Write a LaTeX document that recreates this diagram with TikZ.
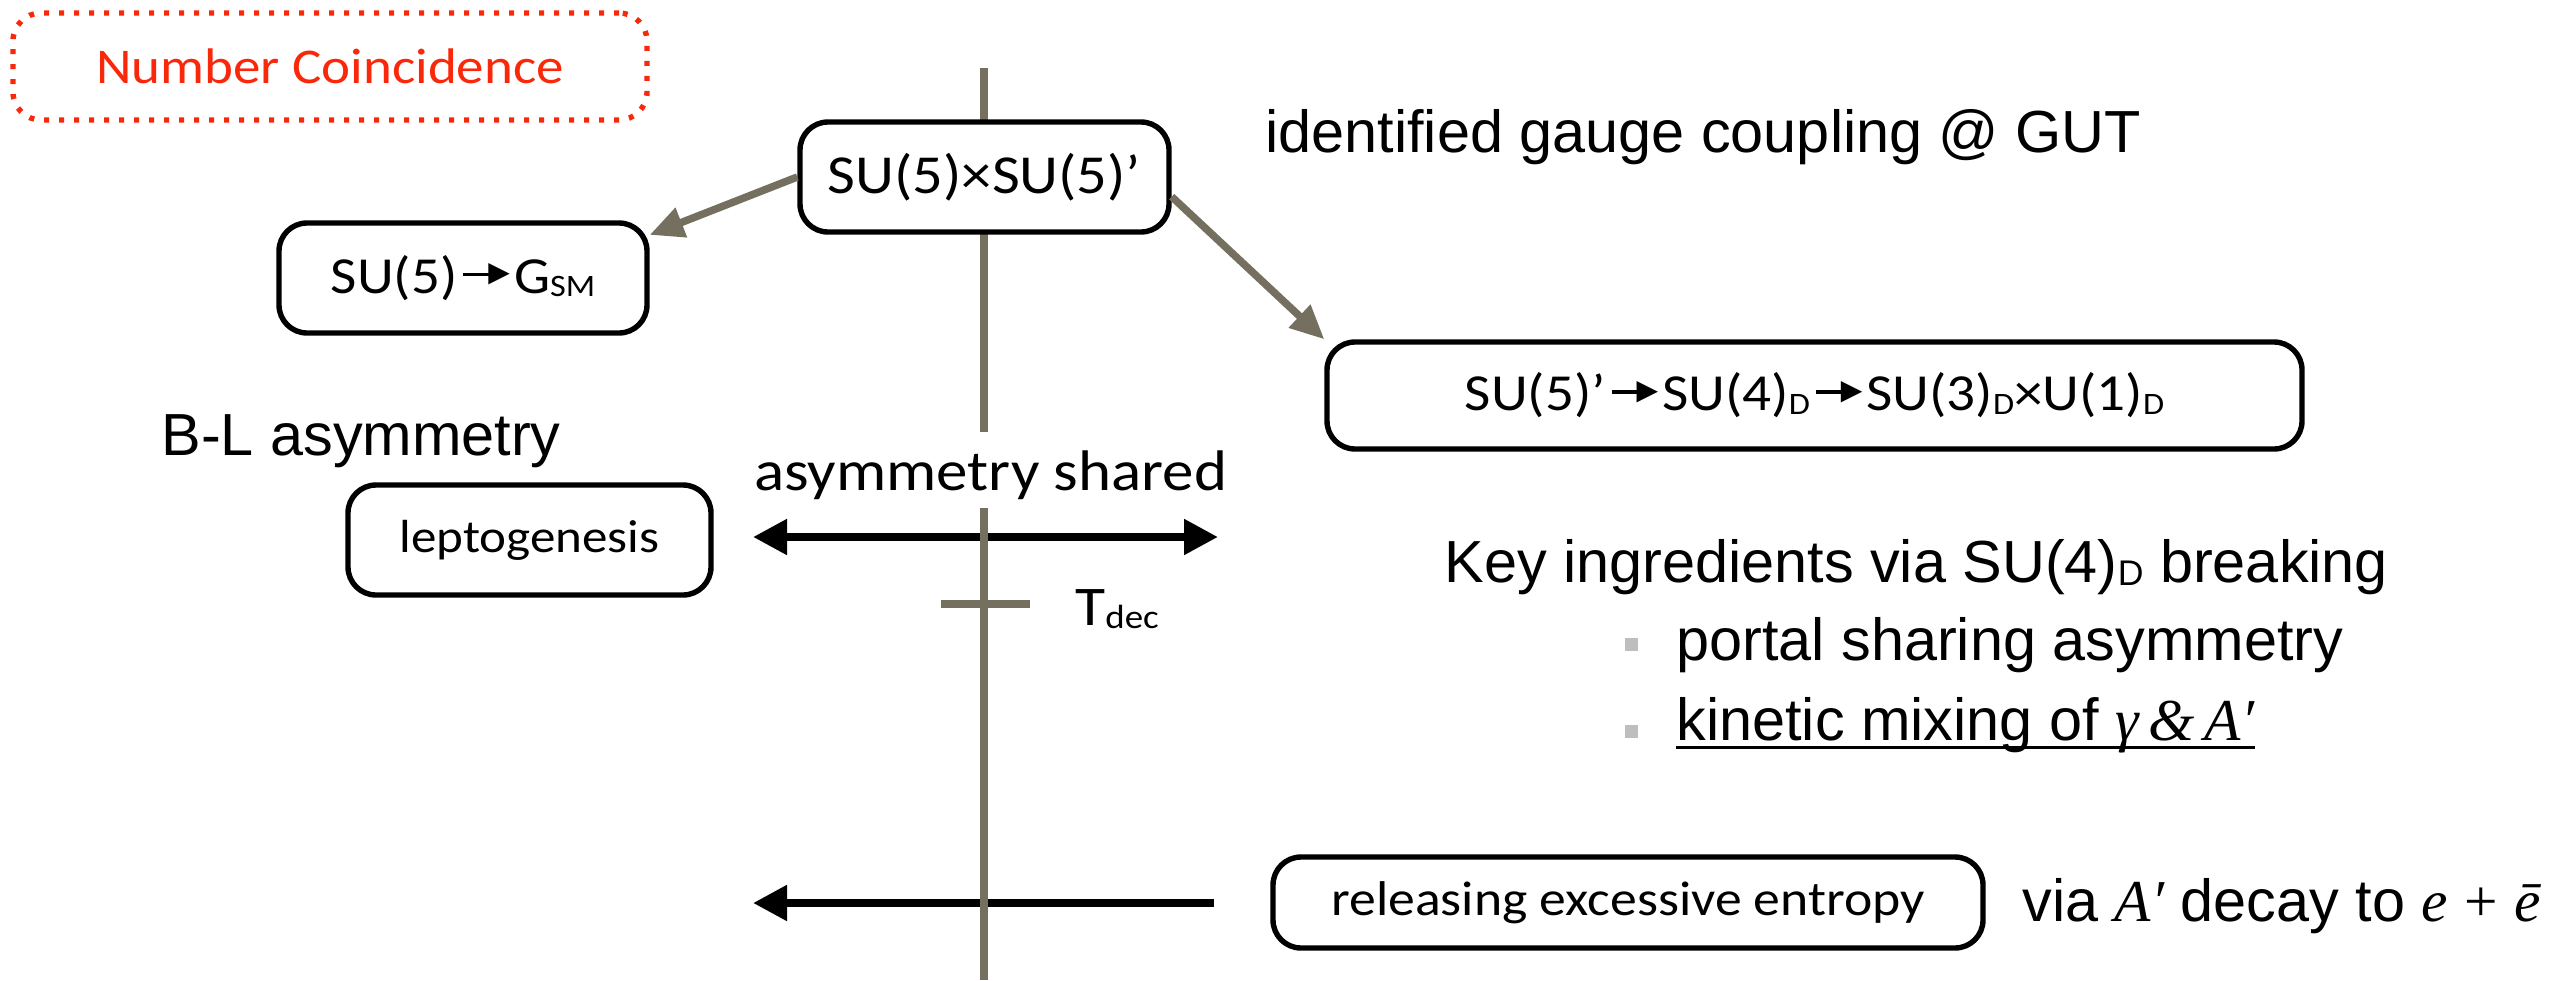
\documentclass[tikz,border=0pt]{standalone}
\usepackage{fontspec}
\usepackage{graphicx}
\setmainfont{Liberation Sans}
\newfontfamily\gill[FakeStretch=1.1]{Carlito}
\newfontfamily\tms{Liberation Serif}
\newfontfamily\djv{DejaVu Sans}
\usetikzlibrary{arrows.meta,backgrounds,calc}
\definecolor{brn}{RGB}{117,111,96}
\definecolor{ncred}{RGB}{250,40,10}
\definecolor{bul}{RGB}{190,190,190}
% lowered small subscript, as in SU(4)_D
\newcommand\lsub[1]{\raisebox{-0.06em}{\scalebox{0.6}{#1}}}
% small solid-headed arrow used inside the group names
\newcommand\garr{\kern3pt\rule[8.6pt]{15pt}{1.8pt}\kern-2.5pt%
  \raisebox{\dimexpr 9.5pt-0.5\height+0.5\depth\relax}{\djv\fontsize{14pt}{14pt}\selectfont ▶}\kern2pt}
\begin{document}
\begin{tikzpicture}[x=0.5pt,y=-0.5pt,
  box/.style={draw, line width=2.7pt, rounded corners=14pt, fill=white, inner sep=0pt,
    align=center, font=\gill\fontsize{26pt}{31pt}\selectfont},
  note/.style={inner sep=0pt, anchor=base west, font=\fontsize{29.7pt}{34pt}\selectfont},
  gnote/.style={inner sep=0pt, font=\gill\fontsize{28pt}{32pt}\selectfont},
  grarrow/.style={draw=brn, line width=3.75pt, -{Triangle[length=17pt,width=15pt]}},
  bkarrow/.style={draw=black, line width=4pt},
  bullet/.style={fill=bul, inner sep=0pt, minimum size=6.5pt},
]
\useasboundingbox (0,0) rectangle (2553,980);

% group nodes
\node[box, minimum width=184.5pt, minimum height=55pt, font=\gill\fontsize{27.5pt}{32pt}\selectfont]
  (top) at (984.5,177) {SU(5)×SU(5)’};
\node[box, minimum width=184pt, minimum height=55pt] (gsm) at (463,278) {SU(5)\garr G\lsub{SM}};
\node[box, minimum width=487.5pt, minimum height=53.5pt] (long) at (1814.5,395.5)
  {SU(5)’\garr SU(4)\lsub{D}\garr SU(3)\lsub{D}×U(1)\lsub{D}};
\node[box, minimum width=181.5pt, minimum height=55pt, font=\gill\fontsize{23.2pt}{28pt}\selectfont]
  (lepto) at (529.5,540) {leptogenesis};
\node[box, minimum width=355pt, minimum height=45.5pt, font=\gill\fontsize{24.4pt}{28pt}\selectfont]
  (release) at (1628,902.5) {releasing excessive entropy};
\node[box, draw=ncred, text=ncred, dash pattern=on 2.5pt off 5pt, font=\gill\fontsize{25pt}{30pt}\selectfont,
  minimum width=317pt, minimum height=53.5pt] (nc) at (330,66.5) {Number Coincidence};

% annotations
\node[note] (gut) at (1265,152) {identified gauge coupling @ GUT};
\node[note] (bl) at (161,455) {B-L asymmetry};
\node[gnote, anchor=base, fill=white, inner xsep=3pt, text height=29pt, text depth=9pt,
  font=\gill\fontsize{28.6pt}{32pt}\selectfont] (shared) at (990.5,490) {asymmetry shared};
\node[gnote, anchor=base west] (tdec) at (1075,625) {T\lsub{dec}};
\node[note] (key) at (1444,582) {Key ingredients via SU(4)\lsub{D} breaking};
\node[bullet] (b1) at (1631,644) {};
\node[note] (portal) at (1676,660) {portal sharing asymmetry};
\node[bullet] (b2) at (1631,731) {};
\node[note] (kin) at (1676,740) {kinetic mixing of {\tms\itshape γ\,\&\,A′}};
\draw[line width=1.5pt] ($(kin.base west)+(0,7)$) -- ($(kin.base east)+(0,7)$);
\node[note] (via) at (2022,921) {via {\tms\itshape A′} decay to {\tms\itshape e} {\tms +} {\tms\itshape ē}};

% breaking arrows
\draw[grarrow] (top.west) -- (gsm.13);
\draw[grarrow] (top.-6) -- (long.north west);

% time axis and horizontal arrows
\coordinate (ttop) at (984,68);
\coordinate (tbot) at (984,980);
\coordinate (tickL) at (941,604);
\coordinate (tickR) at (1030,604);
\coordinate (shareL) at (753,537);
\coordinate (shareR) at (1218,537);
\coordinate (relR) at (1214,903);
\coordinate (relL) at (753,903);
\begin{scope}[on background layer]
  \fill[white] (0,0) rectangle (2553,980);
  \draw[bkarrow, {Triangle[length=17pt,width=17pt]}-{Triangle[length=17pt,width=17pt]}] (shareL) -- (shareR);
  \draw[bkarrow, -{Triangle[length=17pt,width=17pt]}] (relR) -- (relL);
  \draw[brn, line width=3.75pt] (ttop) -- (tbot);
  \draw[brn, line width=4pt] (tickL) -- (tickR);
\end{scope}
\end{tikzpicture}
\end{document}
